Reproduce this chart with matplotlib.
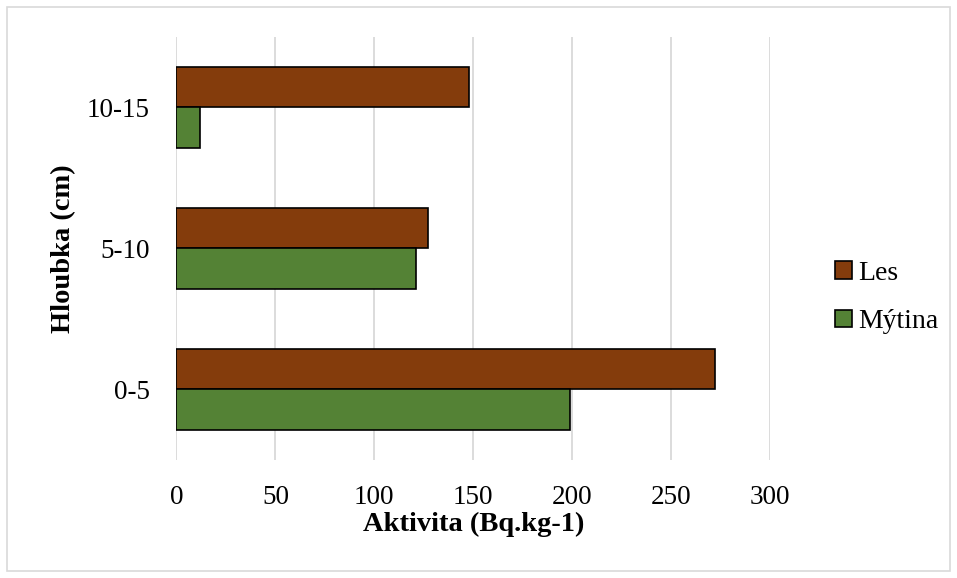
import numpy as np
import matplotlib.pyplot as plt
from matplotlib.patches import Rectangle

categories = ['0-5', '5-10', '10-15']
les = [272, 127, 148]
mytina = [199, 121, 12]

plt.rcParams['font.family'] = ['Liberation Serif', 'DejaVu Serif']

fig = plt.figure(figsize=(9.57, 5.78), dpi=100)
ax = fig.add_axes([0.1844, 0.2042, 0.6202, 0.7318])

y = np.arange(len(categories))
h = 0.287
ax.barh(y + h / 2, les, height=h, color='#843C0C', edgecolor='black', linewidth=1.2, label='Les', zorder=3)
ax.barh(y - h / 2, mytina, height=h, color='#548235', edgecolor='black', linewidth=1.2, label='Mýtina', zorder=3)

ax.set_xlim(0, 300)
ax.set_ylim(-0.5, 2.5)
ax.set_xticks(np.arange(0, 301, 50))
ax.set_yticks(y)
ax.set_yticklabels(categories)
ax.tick_params(length=0, labelsize=19.5)
ax.tick_params(axis='x', pad=18)
ax.tick_params(axis='y', pad=19)
ax.xaxis.grid(True, color='#d9d9d9', linewidth=1.3, zorder=0)
for s in ax.spines.values():
    s.set_visible(False)

ax.set_xlabel('Aktivita (Bq.kg-1)', fontsize=20.5, fontweight='bold', labelpad=1)
ax.set_ylabel('Hloubka (cm)', fontsize=20.5, fontweight='bold', labelpad=8)

handles, labels = ax.get_legend_handles_labels()
fig.legend(handles, labels, loc='center left', bbox_to_anchor=(0.8725, 0.4853),
           frameon=False, fontsize=20, handlelength=0.6, handleheight=0.6,
           handletextpad=0.25, labelspacing=0.85, borderpad=0, borderaxespad=0)

fig.patches.append(Rectangle((7 / 957, 7 / 578), 943 / 957, 564 / 578, transform=fig.transFigure,
                             fill=False, edgecolor='#d9d9d9', linewidth=1.2))

plt.savefig('out.png', dpi=100)
